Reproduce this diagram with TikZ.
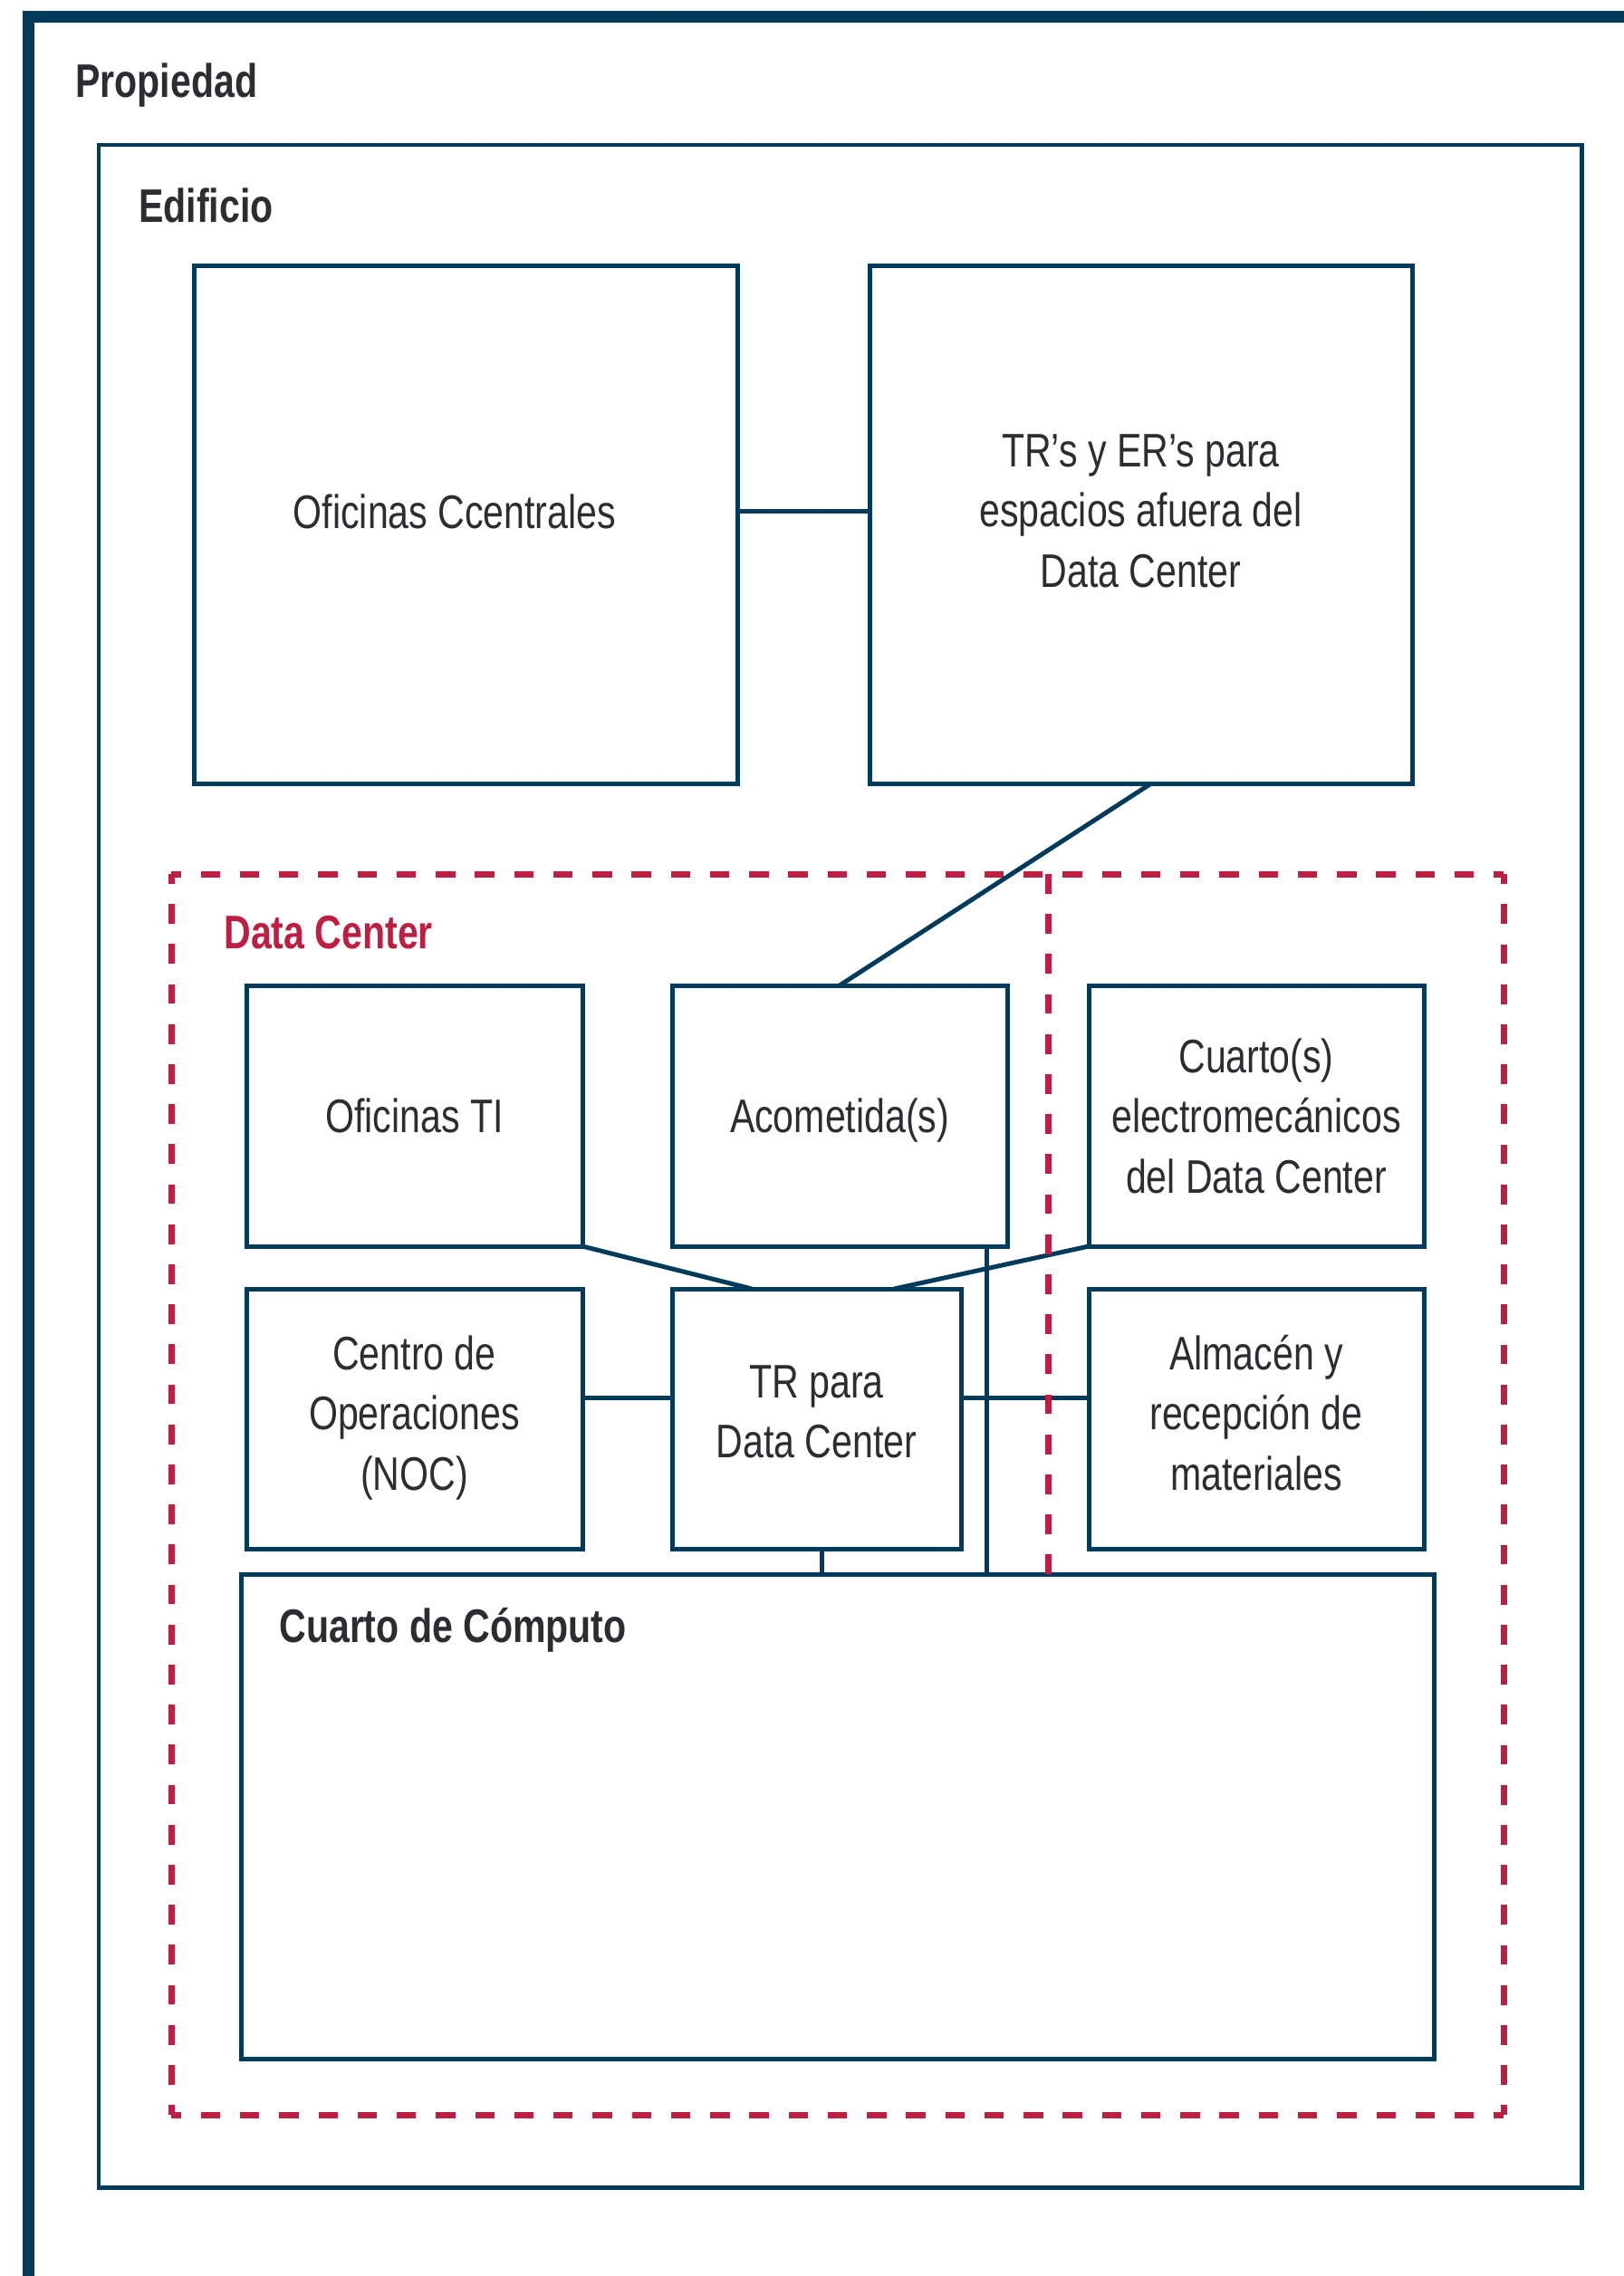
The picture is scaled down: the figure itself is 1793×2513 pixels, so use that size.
\documentclass[tikz,border=0pt]{standalone}
\usepackage{fontspec}
\setmainfont{Liberation Sans}[FakeStretch=0.79]
\usetikzlibrary{calc}
\definecolor{navy}{RGB}{0,59,92}
\definecolor{dcred}{RGB}{190,30,65}
\definecolor{ink}{RGB}{43,45,48}

% a rectangular room given by the centre lines of its border: name, x1, y1, x2, y2
\newcommand\roomnode[6][]{%
  \node[room,#1,minimum width={(#5-#3)*0.5pt},minimum height={(#6-#4)*0.5pt}]
    (#2) at ({(#3+#5)/2},{(#4+#6)/2}) {};}

\begin{document}
\begin{tikzpicture}[x=0.5pt,y=-0.5pt,
  room/.style={draw=navy,line width=2.5pt,rectangle,inner sep=0pt,outer sep=0pt},
  link/.style={draw=navy,line width=2.5pt},
  dcside h/.style={draw=dcred,line width=3.5pt,dash pattern=on 10.7pt off 10.93pt,dash phase=5.35pt},
  dcside v/.style={draw=dcred,line width=3.5pt,dash pattern=on 10.9pt off 11.2pt,dash phase=5.45pt},
  dcdivider/.style={draw=dcred,line width=3.5pt,dash pattern=on 10.9pt off 11.2pt},
  label/.style={font=\fontsize{26}{33.25}\selectfont,text=ink,align=center,inner sep=0pt,anchor=north},
  heading/.style={font=\fontsize{26}{33.25}\selectfont\bfseries,text=ink,inner sep=0pt,anchor=base west}]

\useasboundingbox (0,0) rectangle (1793,2513);
\fill[white] (0,0) rectangle (1793,2513);
\clip (0,0) rectangle (1793,2513);

% property and building outlines
\roomnode[line width=6.5pt]{prop}{31}{18}{2100}{2800}
\roomnode[line width=2.25pt]{edif}{109}{160}{1746.7}{2415.7}

% data center zone (dashed, each side starts and ends on a half dash)
\roomnode[draw=none]{dc}{189}{965}{1660}{2335}
\draw[dcside h] (dc.north west) -- (dc.north east);
\draw[dcside h] (dc.south east) -- (dc.south west);
\draw[dcside v] (dc.north east) -- (dc.south east);
\draw[dcside v] (dc.south west) -- (dc.north west);

% rooms
\roomnode{oc}{214.7}{293}{814}{865}
\roomnode{trer}{960}{293}{1559}{865}
\roomnode{ofti}{272}{1088}{643}{1376}
\roomnode{acom}{742}{1088}{1112}{1376}
\roomnode{elec}{1202}{1088}{1572}{1376}
\roomnode{noc}{272}{1423}{643}{1710}
\roomnode{tr}{742}{1423}{1061}{1710}
\roomnode{alm}{1202}{1423}{1572}{1710}
\roomnode{cc}{266}{1738.5}{1583}{2273}

% cabling between rooms
\draw[link] ([yshift=7.5pt]oc.east) -- ([yshift=7.5pt]trer.west);
\draw[link] ([xshift=5.75pt]trer.south) -- (acom.north);
\draw[link] (ofti.south east) -- ([xshift=-35.75pt]tr.north);
\draw[link] (elec.south west) -- ([xshift=43pt]tr.north);
\draw[link] ([yshift=11.75pt]noc.east) -- ([yshift=11.75pt]tr.west);
\draw[link] ([yshift=11.75pt]tr.east) -- ([yshift=11.75pt]alm.west);
\draw[link] ([xshift=2.75pt]tr.south) -- ([xshift=2.75pt]tr.south |- cc.north);
\draw[link] ([xshift=81pt]acom.south) -- ([xshift=81pt]acom.south |- cc.north);

% inner boundary of the data center zone
\draw[dcdivider] (1157,0 |- dc.north) -- (1157,0 |- cc.north);

% headings
\node[heading] (propT) at (83,107) {Propiedad};
\node[heading] (edifT) at (153,245) {Edificio};
\node[heading,text=dcred] (dcT) at (247,1047) {Data Center};
\node[heading] (ccT) at (308,1813) {Cuarto de Cómputo};

% room labels (north anchor sits one strut above the first baseline)
\node[label] (ocL) at (502,{583-46.55}) {\strut Oficinas Ccentrales};
\node[label] (trerL) at (1259.5,{515-46.55}) {\strut TR’s y ER’s para\\espacios afuera del\\Data Center};
\node[label] (oftiL) at (457.5,{1250-46.55}) {\strut Oficinas TI};
\node[label] (acomL) at (927,{1250-46.55}) {\strut Acometida(s)};
\node[label] (elecL) at (1387,{1184-46.55}) {\strut Cuarto(s)\\electromecánicos\\del Data Center};
\node[label] (nocL) at (457.5,{1512-46.55}) {\strut Centro de\\Operaciones\\(NOC)};
\node[label] (trL) at (901.5,{1543-46.55}) {\strut TR para\\Data Center};
\node[label] (almL) at (1387,{1512-46.55}) {\strut Almacén y\\recepción de\\materiales};
\end{tikzpicture}
\end{document}
